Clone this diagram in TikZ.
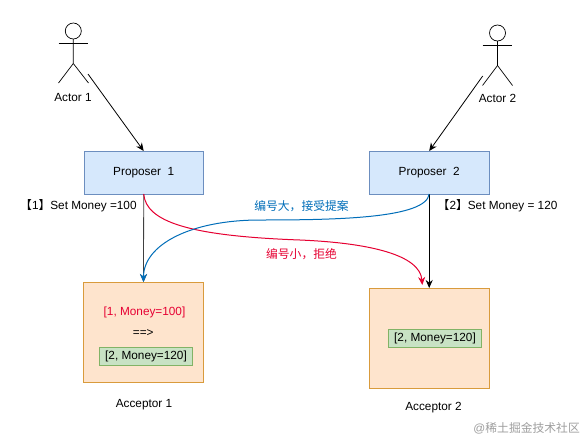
\documentclass[tikz,border=0pt]{standalone}
\usepackage{fontspec}
\setmainfont{Liberation Sans}
\newfontfamily\cjk{Noto Sans CJK SC}
\usetikzlibrary{arrows.meta, positioning, calc}
\definecolor{propfill}{RGB}{214, 232, 252}
\definecolor{propline}{RGB}{108, 142, 191}
\definecolor{accfill}{RGB}{254, 228, 205}
\definecolor{accline}{RGB}{217, 155, 60}
\definecolor{valfill}{RGB}{200, 226, 196}
\definecolor{valline}{RGB}{130, 179, 102}
\definecolor{okblue}{RGB}{0, 110, 185}
\definecolor{nored}{RGB}{230, 0, 50}

\begin{document}
\begin{tikzpicture}[
    x=1pt, y=-1pt,
    font=\fontsize{11.8}{13}\selectfont,
    propbox/.style={
        draw=propline, fill=propfill, line width=0.7pt,
        minimum width=119.5pt, minimum height=43pt, inner sep=0pt, outer sep=0pt
    },
    accbox/.style={
        draw=accline, fill=accfill, line width=0.7pt,
        minimum width=120.5pt, minimum height=100pt, inner sep=0pt, outer sep=0pt
    },
    valbox/.style={
        draw=valline, fill=valfill, line width=0.7pt,
        minimum width=93.5pt, minimum height=18.5pt, inner sep=0pt, outer sep=0pt
    },
    actorline/.style={black, line width=0.7pt},
    arrow/.style={-{Stealth[length=8pt, width=7pt]}, line width=0.8pt},
    curvearrow/.style={-{Stealth[length=8pt, width=7pt]}, line width=1pt},
    plainlabel/.style={inner sep=0pt}
]
\useasboundingbox (0,0) rectangle (585,439);
\fill[white] (0,0) rectangle (585,439);

% Proposers
\node[propbox] (p1) at (143.7,172.5) {Proposer\ \ 1};
\node[propbox, right=166pt of p1] (p2) {Proposer\ \ 2};

% Acceptors
\node[accbox] (a1) at (143.5,332) {};
\node[accbox] (a2) at (429.2,338) {};
\node[plainlabel, text=nored] (old) at (144.5,312) {[1, Money=100]};
\node[plainlabel] (then) at (143.3,333.5) {==>};
\node[valbox] (v1) at (146,356.5) {[2, Money=120]};
\node[valbox] (v2) at (435,338.3) {[2, Money=120]};
\node[plainlabel] (n1) at (144,404.5) {Acceptor 1};
\node[plainlabel] (n2) at (433.5,408) {Acceptor 2};

% Actor 1
\node[draw, circle, actorline, minimum size=16pt, inner sep=0pt, outer sep=0pt] (head1) at (73.3,31) {};
\coordinate (hip1) at (73.3,63.5);
\coordinate (out1) at (88,74);
\draw[actorline] (head1.south) -- (hip1) -- (58.5,83);
\draw[actorline] (hip1) -- (88.5,83);
\draw[actorline] (58.7,43) -- (88.3,43);
\node[plainlabel] (actor1) at (73,97) {Actor 1};

% Actor 2
\node[draw, circle, actorline, minimum size=16pt, inner sep=0pt, outer sep=0pt] (head2) at (497.5,33) {};
\coordinate (hip2) at (497.5,65.5);
\coordinate (out2) at (482.7,76);
\draw[actorline] (head2.south) -- (hip2) -- (482.5,85.5);
\draw[actorline] (hip2) -- (512.5,85.5);
\draw[actorline] (482.7,45) -- (512.3,45);
\node[plainlabel] (actor2) at (497.5,98.5) {Actor 2};

% Arrows from the actors
\draw[arrow] (out1) -- (p1.north);
\draw[arrow] (out2) -- (p2.north);

% Straight arrows down
\draw[arrow, black!75] (p1.south) -- (a1.north);
\draw[arrow, black] (p2.south) -- (a2.north);

% Curved arrows
\coordinate (redend) at (422.3,285);
\draw[curvearrow, nored] (p1.south) .. controls (146,222) and (190,236) .. (300,240)
    .. controls (370,243) and (420,255) .. (redend);
\draw[curvearrow, okblue] (p2.south) .. controls (426,218) and (340,220) .. (260,220)
    .. controls (190,220) and (143.5,245) .. (a1.north);

% Labels
\node[plainlabel, anchor=west] (set1) at (20,206) {{\cjk 【}1{\cjk 】}Set Money =100};
\node[plainlabel, anchor=west] (set2) at (437.5,206) {{\cjk 【}2{\cjk 】}Set Money = 120};
\node[plainlabel, text=okblue] (okl) at (301.5,206) {\cjk 编号大，接受提案};
\node[plainlabel, text=nored] (nol) at (301.5,254.5) {\cjk 编号小，拒绝};

% Watermark
\node[plainlabel, text=black!38, anchor=east] (mark) at (580,428) {@{\cjk 稀土掘金技术社区}};
\end{tikzpicture}
\end{document}
